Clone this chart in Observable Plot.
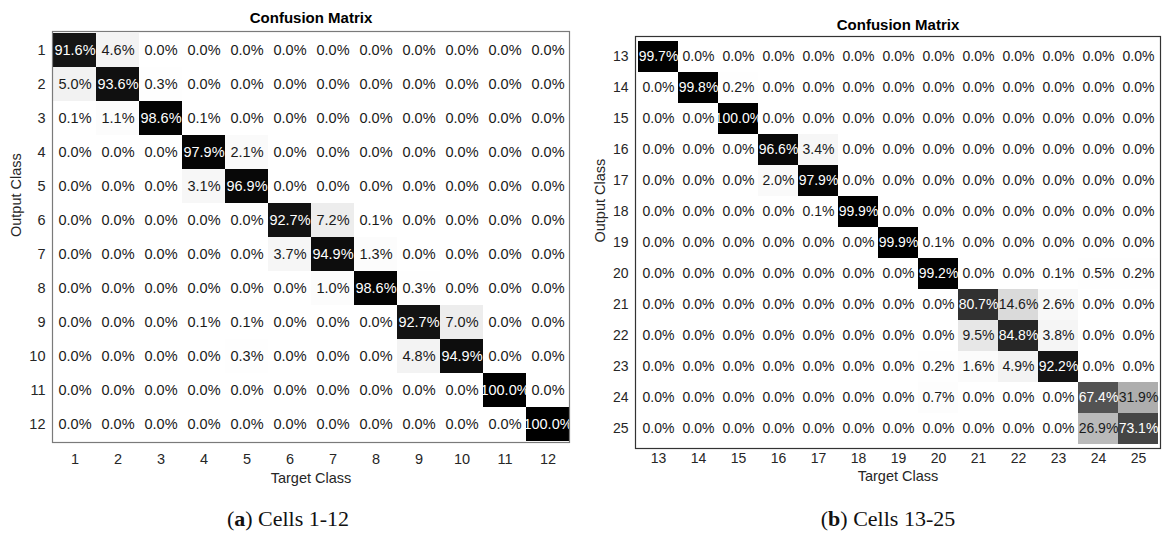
<!DOCTYPE html>
<html>
<head>
<meta charset="utf-8">
<script src="https://cdn.jsdelivr.net/npm/d3@7"></script>
<script src="https://cdn.jsdelivr.net/npm/@observablehq/plot@0.6"></script>
<style>
  body { margin: 0; background: #fff; }
  #fig { position: relative; width: 1164px; height: 537px; overflow: hidden; background: #fff; }
  .panel { position: absolute; top: 0; }
  .caption {
    position: absolute;
    font-family: "Liberation Serif", "Times New Roman", serif;
    font-size: 22px;
    color: #111;
    transform: translate(-50%, -50%);
    white-space: nowrap;
  }
</style>
</head>
<body>
<div id="fig"></div>
<script>
// Classes shown in each confusion matrix
const classesA = ["1","2","3","4","5","6","7","8","9","10","11","12"];
const classesB = ["13","14","15","16","17","18","19","20","21","22","23","24","25"];

// Percentages, one row per output class, columns are target classes
const matrixA = [
  [91.6, 4.6, 0.0, 0.0, 0.0, 0.0, 0.0, 0.0, 0.0, 0.0, 0.0, 0.0],
  [5.0, 93.6, 0.3, 0.0, 0.0, 0.0, 0.0, 0.0, 0.0, 0.0, 0.0, 0.0],
  [0.1, 1.1, 98.6, 0.1, 0.0, 0.0, 0.0, 0.0, 0.0, 0.0, 0.0, 0.0],
  [0.0, 0.0, 0.0, 97.9, 2.1, 0.0, 0.0, 0.0, 0.0, 0.0, 0.0, 0.0],
  [0.0, 0.0, 0.0, 3.1, 96.9, 0.0, 0.0, 0.0, 0.0, 0.0, 0.0, 0.0],
  [0.0, 0.0, 0.0, 0.0, 0.0, 92.7, 7.2, 0.1, 0.0, 0.0, 0.0, 0.0],
  [0.0, 0.0, 0.0, 0.0, 0.0, 3.7, 94.9, 1.3, 0.0, 0.0, 0.0, 0.0],
  [0.0, 0.0, 0.0, 0.0, 0.0, 0.0, 1.0, 98.6, 0.3, 0.0, 0.0, 0.0],
  [0.0, 0.0, 0.0, 0.1, 0.1, 0.0, 0.0, 0.0, 92.7, 7.0, 0.0, 0.0],
  [0.0, 0.0, 0.0, 0.0, 0.3, 0.0, 0.0, 0.0, 4.8, 94.9, 0.0, 0.0],
  [0.0, 0.0, 0.0, 0.0, 0.0, 0.0, 0.0, 0.0, 0.0, 0.0, 100.0, 0.0],
  [0.0, 0.0, 0.0, 0.0, 0.0, 0.0, 0.0, 0.0, 0.0, 0.0, 0.0, 100.0]
];

const matrixB = [
  [99.7, 0.0, 0.0, 0.0, 0.0, 0.0, 0.0, 0.0, 0.0, 0.0, 0.0, 0.0, 0.0],
  [0.0, 99.8, 0.2, 0.0, 0.0, 0.0, 0.0, 0.0, 0.0, 0.0, 0.0, 0.0, 0.0],
  [0.0, 0.0, 100.0, 0.0, 0.0, 0.0, 0.0, 0.0, 0.0, 0.0, 0.0, 0.0, 0.0],
  [0.0, 0.0, 0.0, 96.6, 3.4, 0.0, 0.0, 0.0, 0.0, 0.0, 0.0, 0.0, 0.0],
  [0.0, 0.0, 0.0, 2.0, 97.9, 0.0, 0.0, 0.0, 0.0, 0.0, 0.0, 0.0, 0.0],
  [0.0, 0.0, 0.0, 0.0, 0.1, 99.9, 0.0, 0.0, 0.0, 0.0, 0.0, 0.0, 0.0],
  [0.0, 0.0, 0.0, 0.0, 0.0, 0.0, 99.9, 0.1, 0.0, 0.0, 0.0, 0.0, 0.0],
  [0.0, 0.0, 0.0, 0.0, 0.0, 0.0, 0.0, 99.2, 0.0, 0.0, 0.1, 0.5, 0.2],
  [0.0, 0.0, 0.0, 0.0, 0.0, 0.0, 0.0, 0.0, 80.7, 14.6, 2.6, 0.0, 0.0],
  [0.0, 0.0, 0.0, 0.0, 0.0, 0.0, 0.0, 0.0, 9.5, 84.8, 3.8, 0.0, 0.0],
  [0.0, 0.0, 0.0, 0.0, 0.0, 0.0, 0.0, 0.2, 1.6, 4.9, 92.2, 0.0, 0.0],
  [0.0, 0.0, 0.0, 0.0, 0.0, 0.0, 0.0, 0.7, 0.0, 0.0, 0.0, 67.4, 31.9],
  [0.0, 0.0, 0.0, 0.0, 0.0, 0.0, 0.0, 0.0, 0.0, 0.0, 0.0, 26.9, 73.1]
];

const titleText = "Confusion Matrix";
const xLabel = "Target Class";
const yLabel = "Output Class";
const captionA = ["a", "Cells 1-12"];
const captionB = ["b", "Cells 13-25"];

const sans = "'Liberation Sans', Arial, Helvetica, sans-serif";

function toCells(classes, matrix) {
  const cells = [];
  matrix.forEach((row, i) => row.forEach((v, j) => {
    cells.push({output: classes[i], target: classes[j], value: v});
  }));
  return cells;
}

function confusion(classes, matrix, o) {
  const cells = toCells(classes, matrix);
  const label = d => d.value.toFixed(1) + "%";
  return Plot.plot({
    width: o.width,
    height: o.height,
    marginLeft: o.ml,
    marginRight: o.mr,
    marginTop: o.mt,
    marginBottom: o.mb,
    style: {fontFamily: sans, background: "white", overflow: "visible"},
    x: {type: "band", domain: classes, padding: 0, axis: null},
    y: {type: "band", domain: classes, padding: 0, axis: null},
    color: {type: "linear", domain: [0, 100], range: ["#ffffff", "#000000"]},
    marks: [
      Plot.cell(cells, {x: "target", y: "output", fill: "value", inset: 0}),
      Plot.text(cells.filter(d => d.value <= 50), {
        x: "target", y: "output", text: label, fill: "#1a1a1a", fontSize: o.fs
      }),
      Plot.text(cells.filter(d => d.value > 50), {
        x: "target", y: "output", text: label, fill: "#ffffff", fontSize: o.fs
      }),
      Plot.frame({stroke: o.frame, strokeWidth: 1.2}),
      Plot.axisX(classes, {
        anchor: "bottom", tickSize: 0, tickPadding: o.xpad, fontSize: o.fs,
        label: null, color: "#262626"
      }),
      Plot.axisY(classes, {
        anchor: "left", tickSize: 0, tickPadding: o.ypad, fontSize: o.fs,
        label: null, color: "#262626"
      }),
      Plot.text([titleText], {
        frameAnchor: "top", lineAnchor: "middle", dy: o.titleDy,
        fontSize: 15, fontWeight: "bold", fill: "#000"
      }),
      Plot.text([xLabel], {
        frameAnchor: "bottom", lineAnchor: "middle", dy: o.xLabelDy,
        fontSize: 14.5, fill: "#262626"
      }),
      Plot.text([yLabel], {
        frameAnchor: "left", lineAnchor: "middle", dx: o.yLabelDx, rotate: -90,
        fontSize: 14.5, fill: "#262626"
      })
    ]
  });
}

const fig = document.getElementById("fig");

const left = confusion(classesA, matrixA, {
  width: 580, height: 500, ml: 52, mr: 11, mt: 31, mb: 58,
  fs: 14.5, xpad: 11, ypad: 7, titleDy: -13, xLabelDy: 36, yLabelDx: -36, frame: "#7a7a7a"
});
left.classList.add("panel");
left.style.left = "0px";
fig.appendChild(left);

const right = confusion(classesB, matrixB, {
  width: 584, height: 500, ml: 55, mr: 4, mt: 36, mb: 52,
  fs: 14, xpad: 5, ypad: 7, titleDy: -11, xLabelDy: 28, yLabelDx: -35, frame: "#333333"
});
right.classList.add("panel");
right.style.left = "580px";
fig.appendChild(right);

function addCaption(parts, cx, cy) {
  const div = document.createElement("div");
  div.className = "caption";
  div.style.left = cx + "px";
  div.style.top = cy + "px";
  div.innerHTML = "(<b>" + parts[0] + "</b>) " + parts[1];
  fig.appendChild(div);
}
addCaption(captionA, 288, 519);
addCaption(captionB, 888, 519);
</script>
</body>
</html>
